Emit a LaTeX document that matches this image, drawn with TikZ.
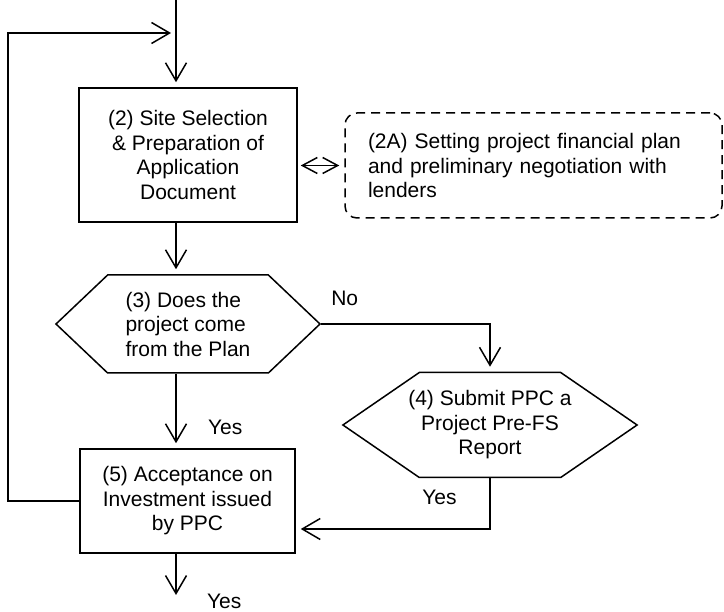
\documentclass[tikz,border=0pt]{standalone}
\usepackage{fontspec}
\setmainfont{Liberation Sans}
\usetikzlibrary{positioning, calc, shapes.geometric, shapes.symbols, arrows.meta}
\tikzstyle{Arrow} = [
%open v-shaped arrow head:
line width = 1.5pt,
-{Straight Barb[length = 18pt, width = 21pt]},
shorten >= 5pt
]

\begin{document}
\begin{tikzpicture}[x = 1pt, y = -1pt,
			every node/.style = {font = \fontsize{21}{24.5}\selectfont},
			process/.style = {rectangle, line width = 1.5pt, draw, align = center, inner sep = 0pt},
			decision/.style = {signal, signal to = west and east, line width = 1.5pt, draw, inner sep = 0pt},
			note/.style = {rectangle, rounded corners = 12pt, line width = 1.5pt, draw, dash pattern = on 9pt off 6pt, align = left, inner xsep = 23pt, inner ysep = 0pt},
		]

		\useasboundingbox (0,0) rectangle (724,612);

		\node[process, minimum width = 218pt, minimum height = 134pt](S2) at (188,155){(2) Site Selection\\ \& Preparation of\\ Application\\ Document};
		\node[note, text width = 331pt, minimum height = 105pt](S2A) at (533.5,165.5){(2A) Setting project financial plan\\ and preliminary negotiation with\\ lenders};
		\node[decision, align = left, minimum width = 264pt, minimum height = 98pt, signal pointer angle = 87](D3) at (188,324){(3) Does the\\ project come\\ from the Plan};
		\node[decision, align = center, inner xsep = -11pt, minimum height = 105pt, signal pointer angle = 69](S4) at (490,425){(4) Submit PPC a\\ Project Pre-FS\\ Report};
		\node[process, minimum width = 215pt, minimum height = 104pt](A5) at (187.5,501){(5) Acceptance on\\ Investment issued\\ by PPC};

		\coordinate(in) at (176,0);
		\coordinate(loop) at (8,33);
		\coordinate(out) at (176,600);
		\coordinate(join) at (487,529);

		\draw[Arrow](in)--(in |- S2.north);
		\draw[Arrow](A5.west) -| (loop) -- (in |- loop);
		\draw[Arrow, {Straight Barb[length = 15pt, width = 16pt]}-{Straight Barb[length = 15pt, width = 16pt]}, shorten <= 3pt](S2.east |- S2A.west)--(S2A.west);
		\draw[Arrow](S2.south -| in)--(D3.north -| in);
		\draw[Arrow](D3.south -| in)--node[pos = 0.72, right = 28pt] {Yes}(A5.north -| in);
		\draw[Arrow](D3.east) -| node[pos = 0.07, above = 14pt] {No}(S4.north);
		\draw[Arrow](S4.south) |- node[pos = 0.63, above = 20pt] {Yes}(A5.east |- join);
		\draw[Arrow](A5.south -| in)--node[pos = 1.04, right = 27pt] {Yes}(out);

	\end{tikzpicture}
\end{document}
